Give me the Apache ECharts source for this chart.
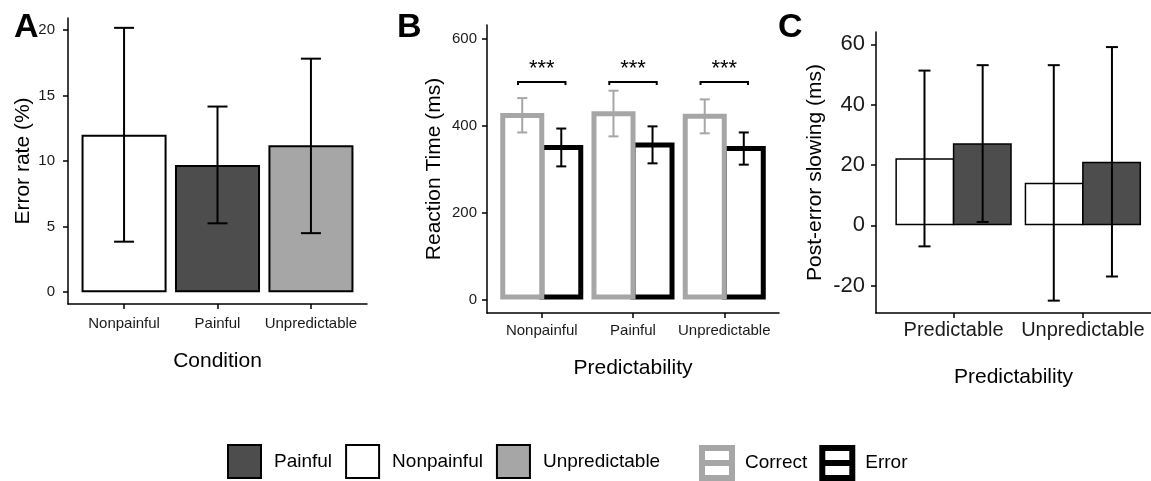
<!DOCTYPE html>
<html>
<head>
<meta charset="utf-8">
<script src="https://cdn.jsdelivr.net/npm/echarts@6/dist/echarts.min.js"></script>
<style>
  html, body { margin: 0; padding: 0; background: #fff; }
  #main { width: 1151px; height: 481px; }
</style>
</head>
<body>
<div id="main"></div>
<script>
// panel A: error rate per condition
const aCategories = ['Nonpainful', 'Painful', 'Unpredictable'];
const aMean = [12.0, 9.7, 11.2];
const aLow = [3.85, 5.25, 4.5];
const aHigh = [20.15, 14.15, 17.8];
const aTicks = [0, 5, 10, 15, 20];

// panel B: reaction time, correct vs error
const bCategories = ['Nonpainful', 'Painful', 'Unpredictable'];
const bCorrect = [429, 433, 427];
const bCorrectLow = [384, 375, 382];
const bCorrectHigh = [463, 480, 460];
const bError = [355, 361, 353];
const bErrorLow = [306, 313, 310];
const bErrorHigh = [393, 398, 384];
const bSigY = [500, 500, 500];
const bSigText = ['***', '***', '***'];
const bTicks = [0, 200, 400, 600];

// panel C: post-error slowing
const cCategories = ['Predictable', 'Unpredictable'];
const cNonpainful = [22.2, 14.1];
const cNonpainfulLow = [-7, -25];
const cNonpainfulHigh = [51.3, 53.1];
const cPainful = [27.2, 21.1];
const cPainfulLow = [1.1, -17];
const cPainfulHigh = [53.1, 59.1];
const cTicks = [-20, 0, 20, 40, 60];

const FONT = 'Liberation Sans, Arial, sans-serif';
const fills = { Nonpainful: '#ffffff', Painful: '#4d4d4d', Unpredictable: '#a6a6a6' };

const chart = echarts.init(document.getElementById('main'));

function xAxisFor(gridIndex, cats, max, fontSize, margin, name, nameGap) {
  const pos = cats.map((c, i) => i + 1);
  return {
    type: 'value', gridIndex, min: 0.4, max,
    axisLine: { show: true, onZero: false, lineStyle: { color: '#000', width: 1.5 } },
    axisTick: { show: true, customValues: pos, length: 5, lineStyle: { color: '#000', width: 1.5 } },
    axisLabel: {
      customValues: pos, margin, fontSize, fontFamily: FONT, color: '#1a1a1a',
      formatter: (v) => cats[Math.round(v) - 1]
    },
    splitLine: { show: false },
    name, nameLocation: 'middle', nameGap,
    nameTextStyle: { fontSize: 21, fontFamily: FONT, color: '#000' }
  };
}

function yAxisFor(gridIndex, min, max, ticks, fontSize, margin, name, nameGap) {
  return {
    type: 'value', gridIndex, min, max,
    axisLine: { show: true, onZero: false, lineStyle: { color: '#000', width: 1.5 } },
    axisTick: { show: true, customValues: ticks, length: 5, lineStyle: { color: '#000', width: 1.5 } },
    axisLabel: { customValues: ticks, margin, fontSize, fontFamily: FONT, color: '#1a1a1a' },
    splitLine: { show: false },
    name, nameLocation: 'middle', nameGap,
    nameTextStyle: { fontSize: 21, fontFamily: FONT, color: '#000' }
  };
}

// error bars drawn at bar centres; offsetFrac shifts by a fraction of the band
function errorBars(axisIdx, lows, highs, color, capHalf, offsetFrac) {
  return {
    type: 'custom', xAxisIndex: axisIdx, yAxisIndex: axisIdx, z: 10, silent: true,
    data: lows.map((lo, i) => [i + 1, lo, highs[i]]),
    encode: { x: 0, y: [1, 2] },
    renderItem: (params, api) => {
      const unit = api.size([1, 0])[0];
      const top = api.coord([api.value(0), api.value(2)]);
      const bot = api.coord([api.value(0), api.value(1)]);
      const cx = top[0] + unit * offsetFrac;
      const style = { stroke: color, lineWidth: 2 };
      return {
        type: 'group',
        children: [
          { type: 'line', shape: { x1: cx, y1: top[1], x2: cx, y2: bot[1] }, style },
          { type: 'line', shape: { x1: cx - capHalf, y1: top[1], x2: cx + capHalf, y2: top[1] }, style },
          { type: 'line', shape: { x1: cx - capHalf, y1: bot[1], x2: cx + capHalf, y2: bot[1] }, style }
        ]
      };
    }
  };
}

const series = [];

// A bars, one series per condition, sharing the same slot
aCategories.forEach((name, i) => {
  series.push({
    type: 'bar', name, xAxisIndex: 0, yAxisIndex: 0,
    data: [[i + 1, aMean[i]]],
    barGap: '-100%', barCategoryGap: '9%',
    itemStyle: { color: fills[name], borderColor: '#000', borderWidth: 2 }
  });
});
series.push(errorBars(0, aLow, aHigh, '#000', 10, 0));

// B bars (correct drawn over the error bar's left edge)
series.push({
  type: 'bar', name: 'Correct', xAxisIndex: 1, yAxisIndex: 1, z: 3,
  data: bCorrect.map((v, i) => [i + 1, v]),
  barGap: '-11.4%', barCategoryGap: '9%',
  itemStyle: { color: '#fff', borderColor: '#a6a6a6', borderWidth: 5 }
});
series.push({
  type: 'bar', name: 'Error', xAxisIndex: 1, yAxisIndex: 1, z: 2,
  data: bError.map((v, i) => [i + 1, v]),
  barGap: '-11.4%', barCategoryGap: '9%',
  itemStyle: { color: '#fff', borderColor: '#000', borderWidth: 5 }
});
series.push(errorBars(1, bCorrectLow, bCorrectHigh, '#a6a6a6', 5, -0.214));
series.push(errorBars(1, bErrorLow, bErrorHigh, '#000', 5, 0.214));
series.push({
  type: 'custom', xAxisIndex: 1, yAxisIndex: 1, z: 10, silent: true,
  data: bSigY.map((y, i) => [i + 1, y]),
  encode: { x: 0, y: 1 },
  renderItem: (params, api) => {
    const unit = api.size([1, 0])[0];
    const p = api.coord([api.value(0), api.value(1)]);
    const half = unit * 0.26;
    return {
      type: 'group',
      children: [
        { type: 'polyline', shape: { points: [[p[0] - half, p[1] + 3], [p[0] - half, p[1]], [p[0] + half, p[1]], [p[0] + half, p[1] + 3]] },
          style: { stroke: '#000', lineWidth: 2, fill: null } },
        { type: 'text', x: p[0], y: p[1] - 2,
          style: { text: bSigText[params.dataIndex], align: 'center', verticalAlign: 'bottom',
                   fontSize: 22, fontFamily: FONT, fill: '#000' } }
      ]
    };
  }
});

// C bars
series.push({
  type: 'bar', name: 'Nonpainful', xAxisIndex: 2, yAxisIndex: 2,
  data: cNonpainful.map((v, i) => [i + 1, v]),
  barGap: '-2.5%', barCategoryGap: '10%',
  itemStyle: { color: fills.Nonpainful, borderColor: '#000', borderWidth: 1.5 }
});
series.push({
  type: 'bar', name: 'Painful', xAxisIndex: 2, yAxisIndex: 2,
  data: cPainful.map((v, i) => [i + 1, v]),
  barGap: '-2.5%', barCategoryGap: '10%',
  itemStyle: { color: fills.Painful, borderColor: '#000', borderWidth: 1.5 }
});
series.push(errorBars(2, cNonpainfulLow, cNonpainfulHigh, '#000', 6, -0.225));
series.push(errorBars(2, cPainfulLow, cPainfulHigh, '#000', 6, 0.225));

const legendText = { fontSize: 19, fontFamily: FONT, color: '#000', padding: [0, 0, 0, 8] };
const boxIcon = 'path://M0,0L30,0L30,30L0,30Z M0,15L30,15';

const option = {
  animation: false,
  backgroundColor: '#fff',
  grid: [
    { left: 68, top: 18, width: 299, height: 286, outerBoundsMode: 'none' },
    { left: 487, top: 25, width: 292, height: 288, outerBoundsMode: 'none' },
    { left: 876, top: 32, width: 275, height: 281, outerBoundsMode: 'none' }
  ],
  xAxis: [
    xAxisFor(0, aCategories, 3.6, 15, 12, 'Condition', 47),
    xAxisFor(1, bCategories, 3.6, 15, 10, 'Predictability', 45),
    xAxisFor(2, cCategories, 2.527, 20, 7, 'Predictability', 54)
  ],
  yAxis: [
    yAxisFor(0, -0.9, 20.9, aTicks, 15, 13, 'Error rate (%)', 34),
    yAxisFor(1, -31, 631, bTicks, 15, 10, 'Reaction Time (ms)', 42),
    yAxisFor(2, -29.1, 64.1, cTicks, 22, 11, 'Post-error slowing (ms)', 50)
  ],
  legend: [
    {
      left: 227, top: 444, padding: 0, itemWidth: 33, itemHeight: 33, itemGap: 13,
      selectedMode: false, icon: 'rect', textStyle: legendText,
      data: ['Painful', 'Nonpainful', 'Unpredictable'].map((name) => ({
        name, itemStyle: { color: fills[name], borderColor: '#000', borderWidth: 2 }
      }))
    },
    {
      left: 699, top: 445, padding: 0, itemWidth: 30, itemHeight: 30, itemGap: 12,
      selectedMode: false, textStyle: legendText,
      data: [
        { name: 'Correct', icon: boxIcon,
          itemStyle: { color: '#fff', borderColor: '#a6a6a6', borderWidth: 6 } },
        { name: 'Error', icon: boxIcon,
          itemStyle: { color: '#fff', borderColor: '#000', borderWidth: 6 } }
      ]
    }
  ],
  title: [
    { text: 'A', left: 9, top: 6, textStyle: { fontSize: 34, fontWeight: 'bold', fontFamily: FONT, color: '#000' } },
    { text: 'B', left: 392, top: 6, textStyle: { fontSize: 34, fontWeight: 'bold', fontFamily: FONT, color: '#000' } },
    { text: 'C', left: 773, top: 6, textStyle: { fontSize: 34, fontWeight: 'bold', fontFamily: FONT, color: '#000' } }
  ],
  series
};

chart.setOption(option);
</script>
</body>
</html>
